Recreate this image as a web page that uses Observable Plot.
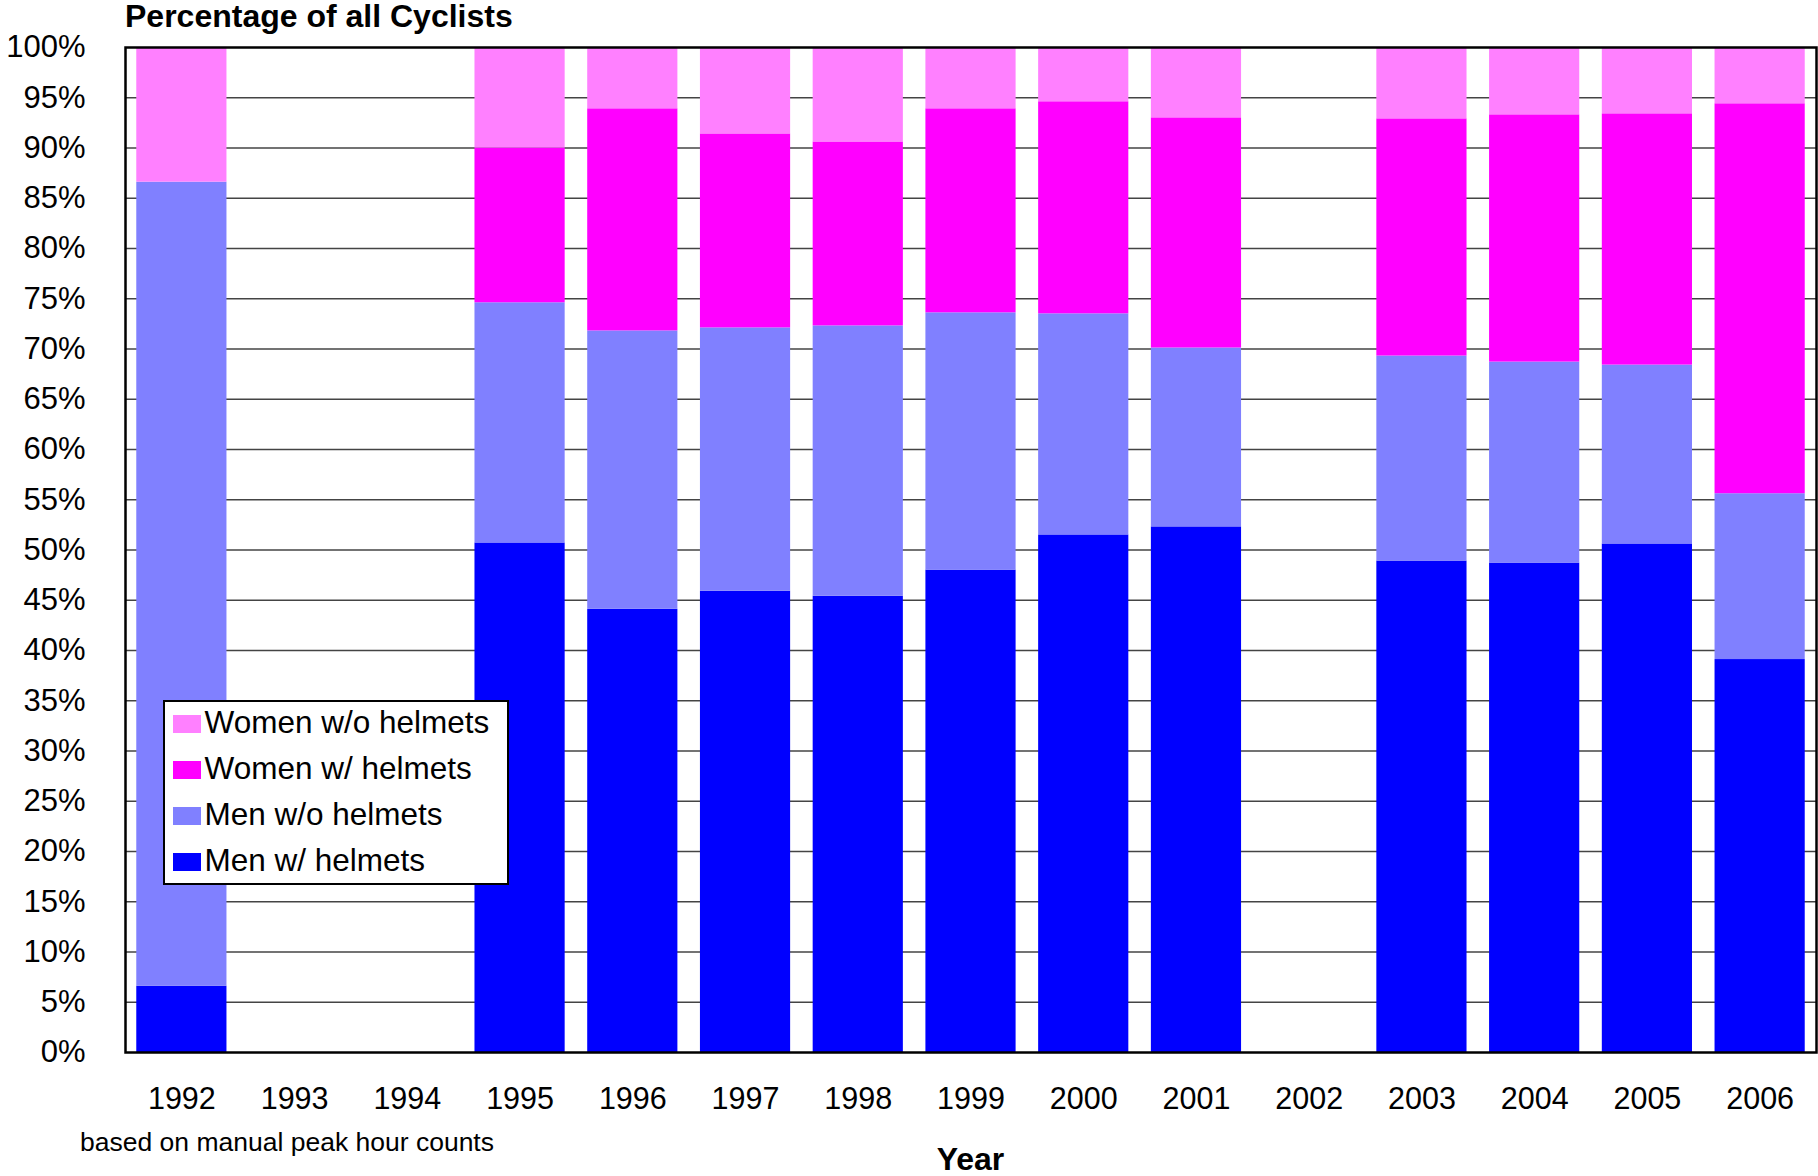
<!DOCTYPE html>
<html>
<head>
<meta charset="utf-8">
<script src="https://cdn.jsdelivr.net/npm/d3@7"></script>
<script src="https://cdn.jsdelivr.net/npm/@observablehq/plot@0.6"></script>
<style>
  html, body { margin: 0; padding: 0; background: #fff; }
  #wrap { position: relative; width: 1818px; height: 1176px; font-family: "Liberation Sans", Arial, sans-serif; color: #000; }
  #wrap svg { position: absolute; left: 0; top: 0; }
  .txt { position: absolute; white-space: nowrap; line-height: 1; }
  #legend { position: absolute; box-sizing: border-box; border: 2.5px solid #000; background: #fff; }
</style>
</head>
<body>
<div id="wrap"></div>
<script>
// ---- data (percent of all cyclists) ----
const years = ["1992","1993","1994","1995","1996","1997","1998","1999","2000","2001","2002","2003","2004","2005","2006"];
const menWithHelmets      = [6.6, null, null, 50.7, 44.1, 45.9, 45.4, 48.0, 51.5, 52.3, null, 48.9, 48.7, 50.6, 39.1];
const menWithoutHelmets   = [80.0, null, null, 23.9, 27.7, 26.2, 26.9, 25.6, 22.0, 17.8, null, 20.4, 20.0, 17.8, 16.5];
const womenWithHelmets    = [0.0, null, null, 15.4, 22.1, 19.3, 18.3, 20.3, 21.1, 22.9, null, 23.6, 24.6, 25.0, 38.8];
const womenWithoutHelmets = [13.4, null, null, 10.0, 6.1, 8.6, 9.4, 6.1, 5.4, 7.0, null, 7.1, 6.7, 6.6, 5.6];
const seriesNames  = ["Men w/ helmets", "Men w/o helmets", "Women w/ helmets", "Women w/o helmets"]; // bottom to top
const seriesColors = ["#0000FF", "#8080FF", "#FF00FF", "#FF80FF"];
const yTicks = [0,5,10,15,20,25,30,35,40,45,50,55,60,65,70,75,80,85,90,95,100];
const titleText = "Percentage of all Cyclists";
const xLabel = "Year";
const captionText = "based on manual peak hour counts";

// ---- tidy table ----
const seriesValues = [menWithHelmets, menWithoutHelmets, womenWithHelmets, womenWithoutHelmets];
const rows = [];
years.forEach((year, i) => {
  seriesValues.forEach((vals, s) => {
    if (vals[i] != null) rows.push({year, series: seriesNames[s], value: vals[i]});
  });
});

const W = 1818, H = 1176;
const chart = Plot.plot({
  width: W,
  height: H,
  marginLeft: 125,
  marginRight: 2,
  marginTop: 47,
  marginBottom: 124,
  style: {fontFamily: "'Liberation Sans', Arial, sans-serif", fontSize: "30px", color: "#000", background: "#fff"},
  x: {type: "band", domain: years, paddingInner: 0.2, paddingOuter: 0.1, round: false, label: null},
  y: {domain: [0, 100], label: null},
  color: {domain: seriesNames, range: seriesColors},
  marks: [
    Plot.ruleY(yTicks.filter(d => d > 0 && d < 100), {stroke: "#444", strokeWidth: 1.4}),
    Plot.barY(rows, Plot.stackY({x: "year", y: "value", fill: "series", inset: 0, order: null})),
    Plot.axisY({ticks: yTicks, tickSize: 0, tickPadding: 40, tickFormat: d => d + "%", label: null, fontSize: 31}),
    Plot.axisX({tickSize: 0, tickPadding: 35, label: null, fontSize: 30.5}),
    Plot.frame({stroke: "#000", strokeWidth: 2.5})
  ]
});

const wrap = document.getElementById("wrap");
wrap.appendChild(chart);

function addText(text, left, baseline, size, weight, anchor) {
  const d = document.createElement("div");
  d.className = "txt";
  d.textContent = text;
  d.style.fontSize = size + "px";
  d.style.fontWeight = weight;
  d.style.top = (baseline - 0.8465 * size) + "px";
  d.style.left = left + "px";
  if (anchor === "middle") d.style.transform = "translateX(-50%)";
  wrap.appendChild(d);
}
addText(titleText, 125, 27, 32, "bold");
addText(xLabel, 970.5, 1170, 32, "bold", "middle");
addText(captionText, 80, 1151, 26.5, "normal");

// ---- legend ----
const legend = document.createElement("div");
legend.id = "legend";
legend.style.left = "163px";
legend.style.top = "700px";
legend.style.width = "346px";
legend.style.height = "185px";
wrap.appendChild(legend);
const legendOrder = seriesNames.map((n, i) => ({name: n, color: seriesColors[i]})).reverse();
legendOrder.forEach((item, k) => {
  const baseline = 734 - 700 + k * 46.2;
  const sw = document.createElement("div");
  sw.style.position = "absolute";
  sw.style.left = (173 - 163 - 2.5) + "px";
  sw.style.top = (baseline - 19 - 2.5) + "px";
  sw.style.width = "28px";
  sw.style.height = "18px";
  sw.style.background = item.color;
  legend.appendChild(sw);
  const t = document.createElement("div");
  t.className = "txt";
  t.textContent = item.name;
  t.style.fontSize = "31.5px";
  t.style.left = (205 - 163 - 2.5) + "px";
  t.style.top = (baseline - 2.5 - 0.8465 * 31.5) + "px";
  legend.appendChild(t);
});
</script>
</body>
</html>
